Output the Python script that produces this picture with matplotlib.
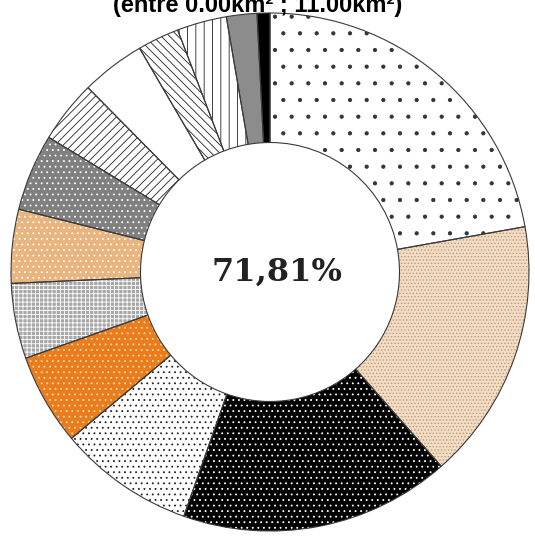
import matplotlib
matplotlib.use("Agg")
import matplotlib.pyplot as plt

# slice shares (%), clockwise from 12 o'clock
shares = [22.2, 16.3, 16.9, 8.5, 5.7, 4.7, 4.6, 4.8, 3.9, 4.0, 2.6, 3.1, 1.9, 0.8]
fills = ['#ffffff', '#f3dcc2', '#000000', '#ffffff', '#e97d1d', '#a8a8a8', '#e9b47e',
         '#808080', '#ffffff', '#ffffff', '#ffffff', '#ffffff', '#8c8c8c', '#000000']
hatches = ['.', '.....', '...', '...', '...', '++++', '...', '...', '////', '', '\\\\\\\\', '||', '', '']
hatch_colors = ['#333333', '#b89a80', '#ffffff', '#222222', '#ffd9a8', '#ffffff', '#ffffff',
                '#ffffff', '#222222', '#222222', '#222222', '#222222', '#222222', '#222222']
title = "(entre 0.00km² ; 11.00km²)"
center_label = "71,81%"

W, H = 535, 537
cx, cy, R = 270, 272, 259

plt.rcParams['hatch.linewidth'] = 0.6
fig = plt.figure(figsize=(W / 100, H / 100), dpi=100)
ax = fig.add_axes([0, 0, 1, 1])

# fills + hatches (hatch drawn in edge colour, so no outline here)
wedges, _ = ax.pie(shares, startangle=90, counterclock=False, radius=1,
                   wedgeprops=dict(width=0.5, linewidth=0))
for w, fc, h, hc in zip(wedges, fills, hatches, hatch_colors):
    w.set_facecolor(fc)
    w.set_hatch(h)
    w.set_edgecolor(hc)
    w.set_linewidth(0)

# outlines on top
ax.pie(shares, startangle=90, counterclock=False, radius=1, colors=['none'] * len(shares),
       wedgeprops=dict(width=0.5, linewidth=0.8, edgecolor='#3a3a3a', fill=False))

ax.text(7 / R, 0.0, center_label, ha='center', va='center', fontsize=23,
        fontweight='bold', family='DejaVu Serif', color='#222222')

ax.set_xlim(-cx / R, (W - cx) / R)
ax.set_ylim(-(H - cy) / R, cy / R)
ax.set_aspect('equal')
ax.axis('off')

# title is cropped at the top edge in the original image
fig.text(258 / W, 1 - 12 / H, title, ha='center', va='baseline', fontsize=17,
         fontweight='bold', family='Liberation Sans')

fig.savefig('out.png', dpi=100)
